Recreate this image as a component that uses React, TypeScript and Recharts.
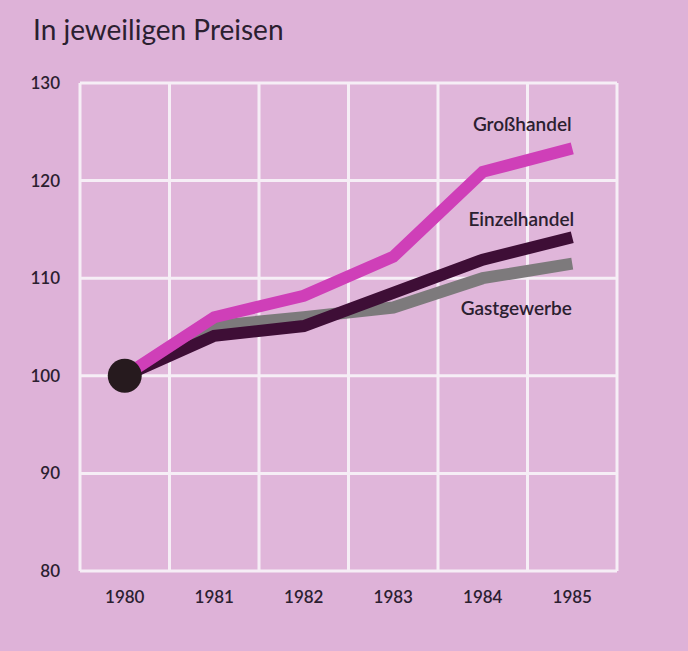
import React from "react";
import {
  LineChart,
  Line,
  XAxis,
  YAxis,
  CartesianGrid,
  ReferenceDot,
  ReferenceLine,
  LabelList,
} from "recharts";

const years = [1980, 1981, 1982, 1983, 1984, 1985];
const grosshandel = [100, 106, 108.2, 112.2, 120.9, 123.3];
const einzelhandel = [100, 104.1, 105.1, 108.5, 111.9, 114.2];
const gastgewerbe = [100, 105.1, 106, 107, 110, 111.5];
const yTicks = [80, 90, 100, 110, 120, 130];
// cell borders sit halfway between years
const cellEdges = [1979.5, 1980.5, 1981.5, 1982.5, 1983.5, 1984.5, 1985.5];

const data = years.map((year, i) => ({
  year,
  gross: grosshandel[i],
  einzel: einzelhandel[i],
  gast: gastgewerbe[i],
}));

const font = "Lato, 'Open Sans', sans-serif";
const ink = "#2b2030";
const gridWhite = "#f6eef6";
const tickStyle = { fontSize: 17, fontWeight: 600, fill: ink, fontFamily: font };

function endLabel(text: string, dx: number, dy: number) {
  return (props: any) => {
    if (props.index !== years.length - 1) return null;
    return (
      <text
        x={props.x + dx}
        y={props.y + dy}
        textAnchor="middle"
        dominantBaseline="middle"
        fontFamily={font}
        fontSize={19}
        fontWeight={600}
        fill={ink}
      >
        {text}
      </text>
    );
  };
}

export default function App() {
  return (
    <div
      style={{
        position: "absolute",
        left: 0,
        top: 0,
        width: 688,
        height: 651,
        background: "#deb2d8",
        fontFamily: font,
      }}
    >
      <div
        style={{
          position: "absolute",
          left: 33,
          top: 12,
          fontSize: 28,
          color: ink,
        }}
      >
        In jeweiligen Preisen
      </div>
      <LineChart
        width={688}
        height={651}
        data={data}
        margin={{ top: 83, right: 0, bottom: 0, left: 0 }}
      >
        <XAxis
          dataKey="year"
          type="number"
          domain={[1979.5, 1985.5]}
          ticks={years}
          height={80}
          axisLine={false}
          tickLine={false}
          tickMargin={14}
          tick={tickStyle}
        />
        <YAxis
          yAxisId="left"
          domain={[80, 130]}
          ticks={yTicks}
          width={80}
          axisLine={false}
          tickLine={false}
          tickMargin={14}
          tick={tickStyle}
        />
        <YAxis
          yAxisId="right"
          orientation="right"
          domain={[80, 130]}
          ticks={yTicks}
          width={71}
          axisLine={false}
          tickLine={false}
          tickMargin={16}
          tick={tickStyle}
        />
        <CartesianGrid
          yAxisId="left"
          vertical={false}
          stroke={gridWhite}
          strokeWidth={3}
          fill="#e0b6da"
        />
        {cellEdges.map((v) => (
          <ReferenceLine
            key={v}
            yAxisId="left"
            x={v}
            stroke={gridWhite}
            strokeWidth={3}
            ifOverflow="visible"
          />
        ))}
        <Line
          yAxisId="left"
          dataKey="gast"
          stroke="#7d7a7c"
          strokeWidth={12}
          strokeLinejoin="miter"
          dot={false}
          isAnimationActive={false}
        >
          <LabelList content={endLabel("Gastgewerbe", -56, 47)} />
        </Line>
        <Line
          yAxisId="left"
          dataKey="einzel"
          stroke="#3e0e36"
          strokeWidth={12}
          strokeLinejoin="miter"
          dot={false}
          isAnimationActive={false}
        >
          <LabelList content={endLabel("Einzelhandel", -51, -16)} />
        </Line>
        <Line
          yAxisId="left"
          dataKey="gross"
          stroke="#cf3fb8"
          strokeWidth={12}
          strokeLinejoin="miter"
          dot={false}
          isAnimationActive={false}
        >
          <LabelList content={endLabel("Großhandel", -50, -22)} />
        </Line>
        <ReferenceDot
          yAxisId="left"
          x={years[0]}
          y={grosshandel[0]}
          r={17}
          fill="#261a1e"
          stroke="none"
          ifOverflow="visible"
        />
      </LineChart>
    </div>
  );
}
